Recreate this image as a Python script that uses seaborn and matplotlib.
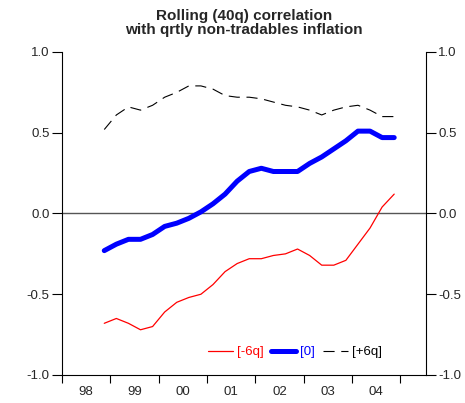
import numpy as np
import pandas as pd
import matplotlib
matplotlib.use("Agg")
import matplotlib.pyplot as plt
import seaborn as sns

# quarterly observations, 1998Q4 .. 2004Q4
quarters = pd.period_range("1998Q4", "2004Q4", freq="Q")

lag_minus6 = [-0.68, -0.65, -0.68, -0.72, -0.70, -0.61, -0.55, -0.52, -0.50, -0.44,
              -0.36, -0.31, -0.28, -0.28, -0.26, -0.25, -0.22, -0.26, -0.32, -0.32,
              -0.29, -0.19, -0.09, 0.04, 0.12]
lag_zero = [-0.23, -0.19, -0.16, -0.16, -0.13, -0.08, -0.06, -0.03, 0.01, 0.06,
            0.12, 0.20, 0.26, 0.28, 0.26, 0.26, 0.26, 0.31, 0.35, 0.40,
            0.45, 0.51, 0.51, 0.47, 0.47]
lag_plus6 = [0.52, 0.61, 0.66, 0.64, 0.67, 0.72, 0.75, 0.79, 0.79, 0.77,
             0.73, 0.72, 0.72, 0.71, 0.69, 0.67, 0.66, 0.64, 0.61, 0.64,
             0.66, 0.67, 0.64, 0.60, 0.60]

year_labels = ["98", "99", "00", "01", "02", "03", "04"]
y_ticks = [-1.0, -0.5, 0.0, 0.5, 1.0]

sns.set_theme(style="ticks")
plt.rcParams["font.family"] = ["Liberation Sans", "DejaVu Sans"]

# mid-quarter position on a decimal-year axis
x = quarters.year + (quarters.quarter - 0.5) / 4
df = pd.DataFrame({"x": x, "m6": lag_minus6, "z": lag_zero, "p6": lag_plus6})

fig = plt.figure(figsize=(4.65, 4.03), dpi=100)
ax = fig.add_axes([0.1333, 0.0695, 0.7825, 0.8015])

ax.axhline(0, color="#555555", lw=1.0, zorder=1)

sns.lineplot(data=df, x="x", y="m6", ax=ax, color="#ff0000", lw=0.9, label="[-6q]")
sns.lineplot(data=df, x="x", y="z", ax=ax, color="#0000ff", lw=3.6, label="[0]")
sns.lineplot(data=df, x="x", y="p6", ax=ax, color="black", lw=0.8, label="[+6q]")
ax.lines[-1].set_dashes((10, 6))

ax.set_xlim(1998.0, 2005.53)
ax.set_ylim(-1.0, 1.0)
ax.set_xlabel("")
ax.set_ylabel("")

# year boundaries as ticks, labels centred in each year
ax.set_xticks(np.arange(1998, 2006))
ax.set_xticklabels([])
ax.set_xticks(np.arange(1998.5, 2005.0, 1.0), minor=True)
ax.set_xticklabels(year_labels, minor=True, fontsize=9.5)
ax.tick_params(axis="x", which="major", direction="out", length=6, width=0.8, color="black")
ax.tick_params(axis="x", which="minor", length=0, pad=8)

ax.set_yticks(y_ticks)
ax.set_yticklabels([f"{v:.1f}" for v in y_ticks], fontsize=9.5)
ax.tick_params(axis="y", left=True, right=True, labelleft=True, labelright=True,
               direction="out", length=7, width=0.8, color="black", pad=2)

for side in ["left", "right", "bottom"]:
    ax.spines[side].set_color("black")
    ax.spines[side].set_linewidth(0.8)
ax.spines["top"].set_visible(False)

ax.set_title("Rolling (40q) correlation\nwith qrtly non-tradables inflation",
             fontsize=11, fontweight="bold", linespacing=0.95, pad=13)

leg = ax.legend(loc="center", bbox_to_anchor=(0.64, 0.071), ncol=3, frameon=False,
                fontsize=9.5, handlelength=1.9, handletextpad=0.3, columnspacing=0.6,
                borderaxespad=0)
leg.get_lines()[2].set_dashes((10, 6))
for text, col in zip(leg.get_texts(), ["#ff0000", "#0000ff", "black"]):
    text.set_color(col)

fig.savefig("out.png", dpi=100)
